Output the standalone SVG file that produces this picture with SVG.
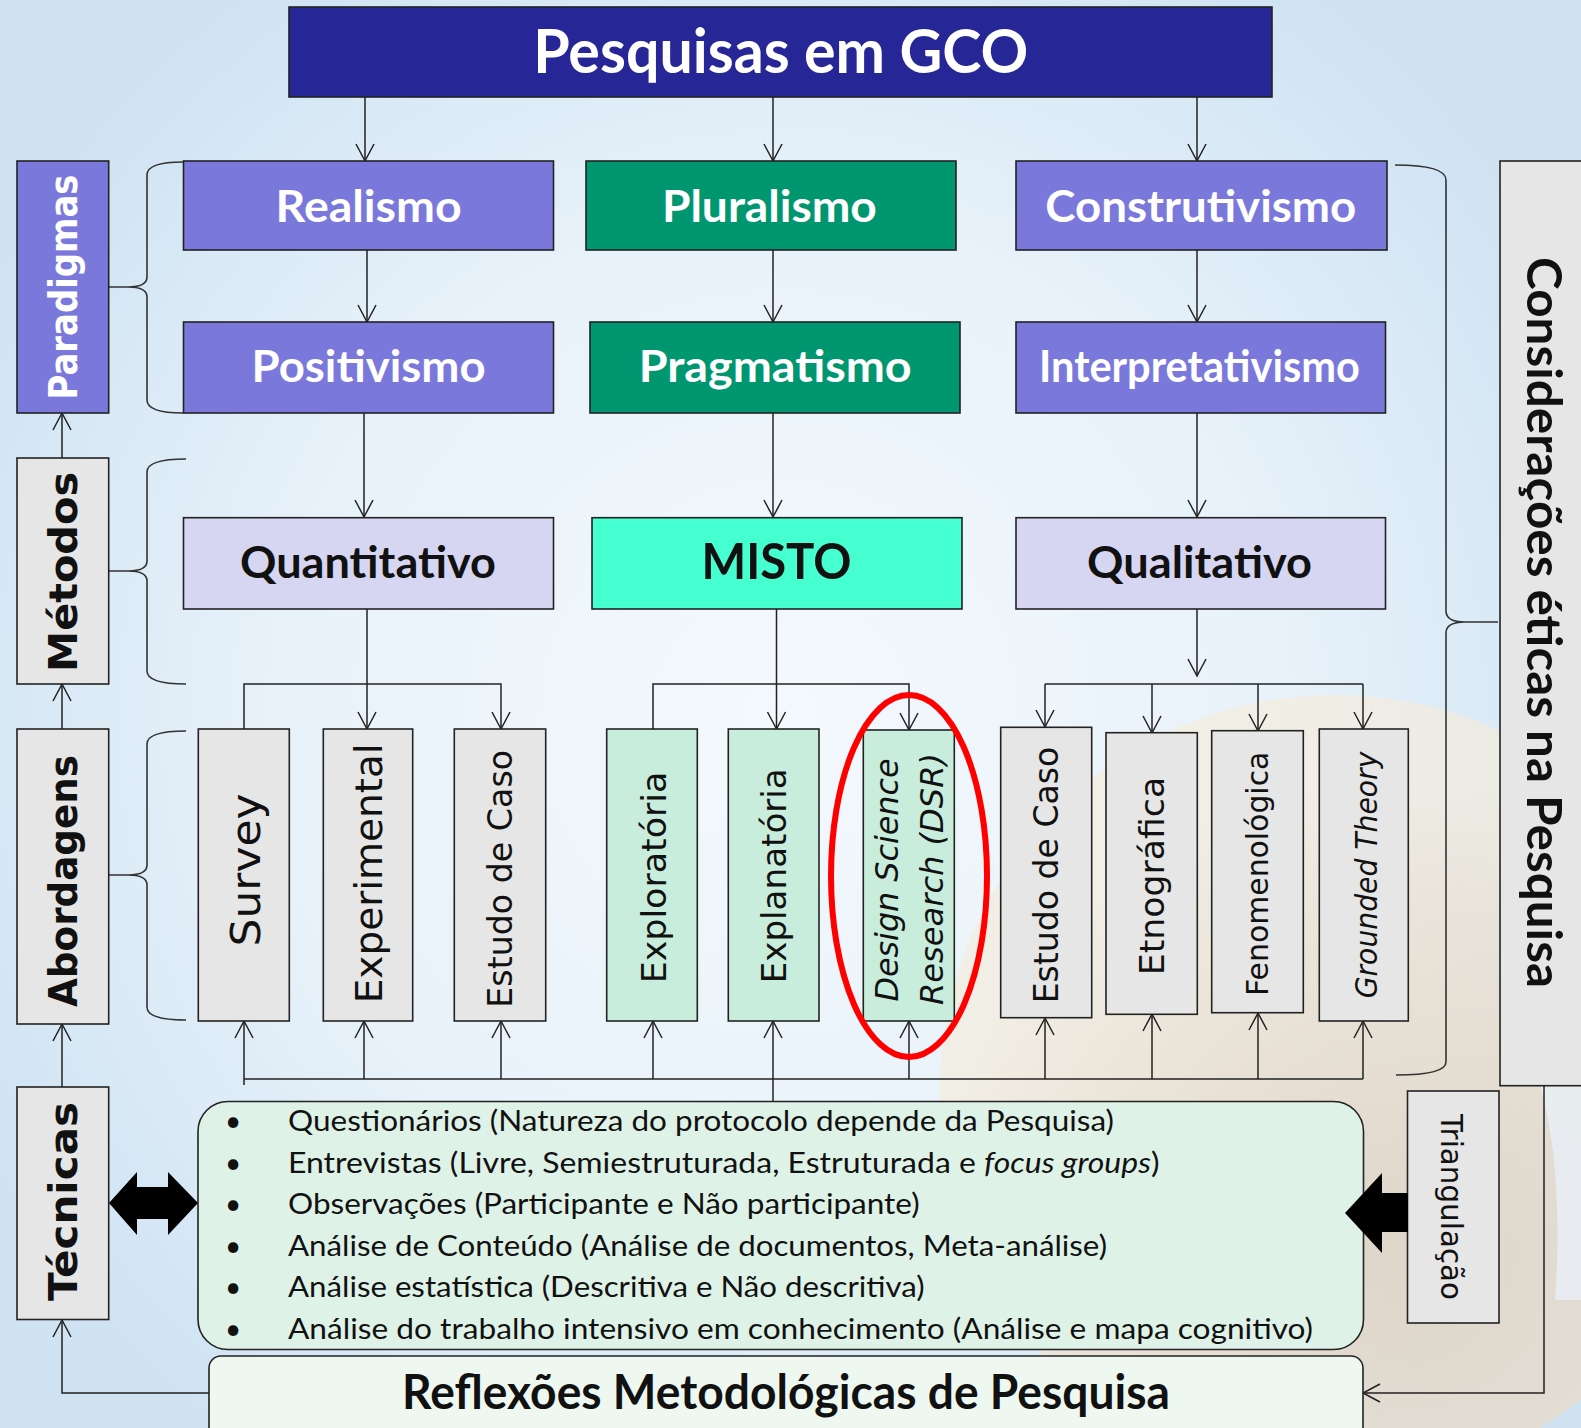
<svg xmlns="http://www.w3.org/2000/svg" width="1581" height="1428" viewBox="0 0 1581 1428">
  <defs>
    <radialGradient id="bg" cx="780" cy="720" r="900" gradientUnits="userSpaceOnUse">
      <stop offset="0" stop-color="#f4f9fd"/>
      <stop offset="0.55" stop-color="#e8f2fa"/>
      <stop offset="1" stop-color="#cfe3f3"/>
    </radialGradient>
    <radialGradient id="sand" cx="1400" cy="1250" r="470" gradientUnits="userSpaceOnUse">
      <stop offset="0" stop-color="#e4cfb8"/>
      <stop offset="0.7" stop-color="#eee0cc"/>
      <stop offset="1" stop-color="#f4ecdc"/>
    </radialGradient>
    <marker id="arr" markerUnits="userSpaceOnUse" viewBox="-20 -11 22 22" refX="0" refY="0" markerWidth="22" markerHeight="22" orient="auto">
      <path d="M-17,-9 L0,0 L-17,9" fill="none" stroke="#222" stroke-width="1.5"/>
    </marker>
    <style>
      .box{stroke:#222;stroke-width:1.6}
      .purple{fill:#7b78dc}
      .green{fill:#009670}
      .lav{fill:#d6d6f2}
      .aqua{fill:#46ffd0}
      .gray{fill:#e6e6e6}
      .mint{fill:#c9eddc}
      .hw{font-family:Lato,"Liberation Sans",sans-serif;font-weight:700;fill:#fff;text-anchor:middle;font-size:44px}
      .hb{font-family:Lato,"Liberation Sans",sans-serif;font-weight:700;fill:#111;text-anchor:middle;font-size:44px}
      .side{font-family:"DejaVu Sans",sans-serif;font-weight:700;fill:#111;text-anchor:middle;font-size:39px}
      .vt{font-family:"DejaVu Sans",sans-serif;fill:#111;text-anchor:middle;font-size:33px}
      .it{font-style:italic}
      .bl{font-family:Lato,"Liberation Sans",sans-serif;fill:#111;font-size:28px}
      .conn{fill:none;stroke:#222;stroke-width:1.5}
      .brace{fill:none;stroke:#333;stroke-width:1.6}
      .solid{fill:#000}
    </style>
  </defs>

  <!-- backdrop -->
  <rect x="0" y="0" width="1581" height="1428" fill="url(#bg)"/>
  <circle cx="1335" cy="1090" r="395" fill="url(#sand)" opacity="0.7"/>
  <path d="M1500,1000 C1545,1060 1565,1160 1555,1300 L1581,1300 L1581,1000 Z" fill="#e9f2fa" opacity="0.75"/>

  <!-- braces -->
  <g id="braces">
    <path class="brace" d="M183,162 Q147,162 147,175 L147,277 Q147,287 128,287 L109,287 M128,287 Q147,287 147,297 L147,400 Q147,413 183,413"/>
    <path class="brace" d="M186,459 Q147,459 147,472 L147,561 Q147,571 128,571 L109,571 M128,571 Q147,571 147,581 L147,671 Q147,684 186,684"/>
    <path class="brace" d="M186,731 Q147,731 147,744 L147,865 Q147,875 128,875 L109,875 M128,875 Q147,875 147,885 L147,1007 Q147,1020 186,1020"/>
    <path class="brace" d="M1395,165 Q1446,165 1446,180 L1446,611 Q1446,622 1465,622 L1498,622 M1465,622 Q1446,622 1446,633 L1446,1062 Q1446,1075 1396,1075"/>
  </g>

  <!-- connectors -->
  <g id="connectors" class="conn">
    <line x1="365" y1="97" x2="365" y2="161" marker-end="url(#arr)"/>
    <line x1="773" y1="97" x2="773" y2="161" marker-end="url(#arr)"/>
    <line x1="1197" y1="97" x2="1197" y2="161" marker-end="url(#arr)"/>
    <line x1="367" y1="250" x2="367" y2="322" marker-end="url(#arr)"/>
    <line x1="773" y1="250" x2="773" y2="322" marker-end="url(#arr)"/>
    <line x1="1197" y1="250" x2="1197" y2="322" marker-end="url(#arr)"/>
    <line x1="364" y1="413" x2="364" y2="517" marker-end="url(#arr)"/>
    <line x1="773" y1="413" x2="773" y2="517" marker-end="url(#arr)"/>
    <line x1="1197" y1="413" x2="1197" y2="517" marker-end="url(#arr)"/>

    <!-- Quantitativo fan-out -->
    <line x1="367" y1="609" x2="367" y2="729" marker-end="url(#arr)"/>
    <polyline points="244,729 244,684 501,684 501,729" marker-start="url(#arr)" marker-end="url(#arr)"/>
    <!-- MISTO fan-out -->
    <line x1="776.5" y1="609" x2="776.5" y2="729" marker-end="url(#arr)"/>
    <polyline points="653,729 653,684 909,684 909,730" marker-start="url(#arr)" marker-end="url(#arr)"/>
    <!-- Qualitativo fan-out -->
    <line x1="1197" y1="609" x2="1197" y2="676" marker-end="url(#arr)"/>
    <polyline points="1045,684 1363,684"/>
    <line x1="1045" y1="684" x2="1045" y2="727" marker-end="url(#arr)"/>
    <line x1="1152" y1="684" x2="1152" y2="733" marker-end="url(#arr)"/>
    <line x1="1258" y1="684" x2="1258" y2="731" marker-end="url(#arr)"/>
    <line x1="1363" y1="684" x2="1363" y2="729" marker-end="url(#arr)"/>

    <!-- bottom bus -->
    <line x1="244" y1="1079" x2="1363" y2="1079"/>
    <line x1="244" y1="1085" x2="244" y2="1021" marker-end="url(#arr)"/>
    <line x1="364" y1="1079" x2="364" y2="1021" marker-end="url(#arr)"/>
    <line x1="501" y1="1079" x2="501" y2="1021" marker-end="url(#arr)"/>
    <line x1="653" y1="1079" x2="653" y2="1021" marker-end="url(#arr)"/>
    <line x1="773" y1="1101" x2="773" y2="1021" marker-end="url(#arr)"/>
    <line x1="909" y1="1079" x2="909" y2="1021" marker-end="url(#arr)"/>
    <line x1="1045" y1="1079" x2="1045" y2="1018" marker-end="url(#arr)"/>
    <line x1="1152" y1="1079" x2="1152" y2="1014" marker-end="url(#arr)"/>
    <line x1="1258" y1="1079" x2="1258" y2="1013" marker-end="url(#arr)"/>
    <line x1="1363" y1="1079" x2="1363" y2="1021" marker-end="url(#arr)"/>

    <!-- side column -->
    <line x1="62" y1="458" x2="62" y2="413" marker-end="url(#arr)"/>
    <line x1="62" y1="729" x2="62" y2="684" marker-end="url(#arr)"/>
    <line x1="62" y1="1087" x2="62" y2="1024" marker-end="url(#arr)"/>
    <polyline points="209,1393 62,1393 62,1320" marker-end="url(#arr)"/>
    <polyline points="1544,1086 1544,1393 1363,1393" marker-end="url(#arr)"/>
  </g>

  <!-- title -->
  <g id="pesquisas-gco">
    <rect class="box" x="289" y="7" width="983" height="90" fill="#262696"/>
    <text class="hw" x="780.7" y="73.3" style="font-size:62px" textLength="495" lengthAdjust="spacingAndGlyphs">Pesquisas em GCO</text>
  </g>

  <!-- paradigms -->
  <g id="realismo">
    <rect class="box purple" x="183.5" y="161" width="370" height="89"/>
    <text class="hw" x="368.6" y="221.7" textLength="186" lengthAdjust="spacingAndGlyphs">Realismo</text>
  </g>
  <g id="pluralismo">
    <rect class="box green" x="586" y="161" width="370" height="89"/>
    <text class="hw" x="769.4" y="221.7" textLength="215" lengthAdjust="spacingAndGlyphs">Pluralismo</text>
  </g>
  <g id="construtivismo">
    <rect class="box purple" x="1016" y="161" width="371" height="89"/>
    <text class="hw" x="1200.8" y="221.7" textLength="311" lengthAdjust="spacingAndGlyphs">Construtivismo</text>
  </g>
  <g id="positivismo">
    <rect class="box purple" x="183.5" y="322" width="370" height="91"/>
    <text class="hw" x="368.6" y="382.3" textLength="234" lengthAdjust="spacingAndGlyphs">Positivismo</text>
  </g>
  <g id="pragmatismo">
    <rect class="box green" x="590" y="322" width="370" height="91"/>
    <text class="hw" x="775.2" y="382.3" textLength="273" lengthAdjust="spacingAndGlyphs">Pragmatismo</text>
  </g>
  <g id="interpretativismo">
    <rect class="box purple" x="1016" y="322" width="369.5" height="91"/>
    <text class="hw" x="1199.5" y="382.3" textLength="321" lengthAdjust="spacingAndGlyphs">Interpretativismo</text>
  </g>

  <!-- methods -->
  <g id="quantitativo">
    <rect class="box lav" x="183.5" y="517.7" width="370" height="91.3"/>
    <text class="hb" x="368" y="577.7" textLength="256" lengthAdjust="spacingAndGlyphs">Quantitativo</text>
  </g>
  <g id="misto">
    <rect class="box aqua" x="592" y="517.7" width="370" height="91.3"/>
    <text class="hb" x="776.5" y="579" style="font-size:50px" textLength="150" lengthAdjust="spacingAndGlyphs">MISTO</text>
  </g>
  <g id="qualitativo">
    <rect class="box lav" x="1016" y="517.7" width="369.5" height="91.3"/>
    <text class="hb" x="1199.6" y="578" textLength="225" lengthAdjust="spacingAndGlyphs">Qualitativo</text>
  </g>

  <!-- level labels -->
  <g id="paradigmas">
    <rect class="box purple" x="17" y="161" width="91.7" height="252"/>
    <text class="side" style="fill:#fff" transform="translate(76.5,287) rotate(-90)" textLength="225" lengthAdjust="spacingAndGlyphs">Paradigmas</text>
  </g>
  <g id="metodos">
    <rect class="box gray" x="17" y="458" width="91.7" height="226"/>
    <text class="side" transform="translate(76.5,572) rotate(-90)" textLength="200" lengthAdjust="spacingAndGlyphs">Métodos</text>
  </g>
  <g id="abordagens">
    <rect class="box gray" x="17" y="729" width="91.7" height="295"/>
    <text class="side" transform="translate(77,881) rotate(-90)" textLength="252" lengthAdjust="spacingAndGlyphs">Abordagens</text>
  </g>
  <g id="tecnicas">
    <rect class="box gray" x="17" y="1087" width="91.7" height="232.5"/>
    <text class="side" transform="translate(77,1201.5) rotate(-90)" textLength="199" lengthAdjust="spacingAndGlyphs">Técnicas</text>
  </g>

  <!-- approaches -->
  <g id="survey">
    <rect class="box gray" x="198.3" y="729" width="91" height="292"/>
    <text class="vt" style="font-size:41px" transform="translate(260,870) rotate(-90)" textLength="153" lengthAdjust="spacingAndGlyphs">Survey</text>
  </g>
  <g id="experimental">
    <rect class="box gray" x="323.3" y="729" width="89.4" height="292"/>
    <text class="vt" style="font-size:36.5px" transform="translate(381.7,873.3) rotate(-90)" textLength="260" lengthAdjust="spacingAndGlyphs">Experimental</text>
  </g>
  <g id="estudo-caso-quanti">
    <rect class="box gray" x="454.3" y="729" width="91.4" height="292"/>
    <text class="vt" transform="translate(511.7,878.8) rotate(-90)" textLength="257.7" lengthAdjust="spacingAndGlyphs">Estudo de Caso</text>
  </g>
  <g id="exploratoria">
    <rect class="box mint" x="606.7" y="729" width="90.6" height="292"/>
    <text class="vt" transform="translate(665.7,877.5) rotate(-90)" textLength="211.6" lengthAdjust="spacingAndGlyphs">Exploratória</text>
  </g>
  <g id="explanatoria">
    <rect class="box mint" x="728.3" y="729" width="90.7" height="292"/>
    <text class="vt" transform="translate(785.7,875.8) rotate(-90)" textLength="215" lengthAdjust="spacingAndGlyphs">Explanatória</text>
  </g>
  <g id="dsr">
    <rect class="box mint" x="863.3" y="730" width="91" height="291"/>
    <text class="vt it" style="font-size:32px" transform="translate(898.3,880) rotate(-90)" textLength="243" lengthAdjust="spacingAndGlyphs">Design Science</text>
    <text class="vt it" style="font-size:32px" transform="translate(943.3,879) rotate(-90)" textLength="252" lengthAdjust="spacingAndGlyphs">Research (DSR)</text>
  </g>
  <g id="estudo-caso-quali">
    <rect class="box gray" x="1000.7" y="727.3" width="91" height="290.4"/>
    <text class="vt" style="font-size:34px" transform="translate(1058.3,875) rotate(-90)" textLength="256.7" lengthAdjust="spacingAndGlyphs">Estudo de Caso</text>
  </g>
  <g id="etnografica">
    <rect class="box gray" x="1106" y="732.7" width="91.3" height="281.6"/>
    <text class="vt" transform="translate(1164,876) rotate(-90)" textLength="198.3" lengthAdjust="spacingAndGlyphs">Etnográfica</text>
  </g>
  <g id="fenomenologica">
    <rect class="box gray" x="1211.7" y="730.7" width="91.6" height="282"/>
    <text class="vt" style="font-size:30px" transform="translate(1268.3,873.8) rotate(-90)" textLength="244.3" lengthAdjust="spacingAndGlyphs">Fenomenológica</text>
  </g>
  <g id="grounded-theory">
    <rect class="box gray" x="1319.3" y="729" width="89" height="292"/>
    <text class="vt it" style="font-size:30px" transform="translate(1376.7,875) rotate(-90)" textLength="246.7" lengthAdjust="spacingAndGlyphs">Grounded Theory</text>
  </g>

  <!-- ethics -->
  <g id="consideracoes-eticas">
    <rect class="box gray" x="1500" y="161" width="100" height="924.7"/>
    <text class="hb" style="font-size:47px" transform="translate(1527,622.5) rotate(90)" textLength="731" lengthAdjust="spacingAndGlyphs">Considerações éticas na Pesquisa</text>
  </g>

  <!-- triangulation -->
  <g id="triangulacao">
    <rect class="box gray" x="1407.5" y="1091" width="91.5" height="232"/>
    <text class="vt" style="font-size:30px" transform="translate(1440.7,1207) rotate(90)" textLength="186" lengthAdjust="spacingAndGlyphs">Triangulação</text>
  </g>

  <!-- techniques -->
  <g id="tecnicas-lista">
    <rect class="box" x="198" y="1101.5" width="1165.5" height="248" rx="30" ry="30" fill="#dff2e8"/>
    <g class="bl">
      <text x="233" y="1131" text-anchor="middle">•</text>
      <text x="233" y="1172.5" text-anchor="middle">•</text>
      <text x="233" y="1214" text-anchor="middle">•</text>
      <text x="233" y="1255.5" text-anchor="middle">•</text>
      <text x="233" y="1297" text-anchor="middle">•</text>
      <text x="233" y="1338.5" text-anchor="middle">•</text>
      <text x="288" y="1131" textLength="826" lengthAdjust="spacingAndGlyphs">Questionários (Natureza do protocolo depende da Pesquisa)</text>
      <text x="288" y="1172.5" textLength="871.5" lengthAdjust="spacingAndGlyphs">Entrevistas (Livre, Semiestruturada, Estruturada e <tspan font-style="italic">focus groups</tspan>)</text>
      <text x="288" y="1214" textLength="631.6" lengthAdjust="spacingAndGlyphs">Observações (Participante e Não participante)</text>
      <text x="288" y="1255.5" textLength="819" lengthAdjust="spacingAndGlyphs">Análise de Conteúdo (Análise de documentos, Meta-análise)</text>
      <text x="288" y="1297" textLength="636.6" lengthAdjust="spacingAndGlyphs">Análise estatística (Descritiva e Não descritiva)</text>
      <text x="288" y="1338.5" textLength="1025" lengthAdjust="spacingAndGlyphs">Análise do trabalho intensivo em conhecimento (Análise e mapa cognitivo)</text>
    </g>
  </g>

  <!-- heavy arrows, drawn over the techniques panel -->
  <polygon id="double-arrow" class="solid" points="109,1203 137,1172 137,1187 168,1187 168,1172 198,1203 168,1235 168,1219 137,1219 137,1235"/>
  <polygon id="triangulation-arrow" class="solid" points="1345,1213 1382,1173 1382,1193 1408,1193 1408,1232 1382,1232 1382,1253"/>

  <!-- reflections -->
  <g id="reflexoes">
    <rect class="box" x="209" y="1356" width="1154" height="100" rx="12" ry="12" fill="#eef8f1"/>
    <text class="hb" style="font-size:48px" x="786" y="1408.6" textLength="768" lengthAdjust="spacingAndGlyphs">Reflexões Metodológicas de Pesquisa</text>
  </g>

  <!-- highlight -->
  <ellipse id="dsr-highlight" cx="909" cy="876" rx="78" ry="181" fill="none" stroke="#ff0000" stroke-width="6"/>
</svg>
